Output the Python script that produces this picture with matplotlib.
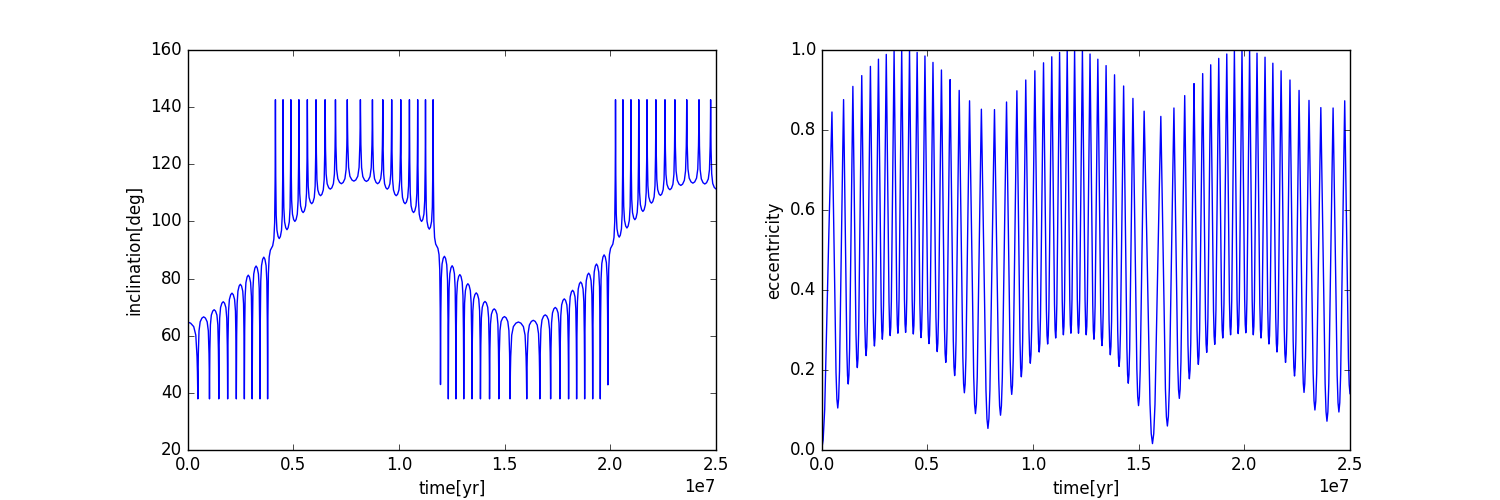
import numpy as np
import matplotlib
matplotlib.use("Agg")
import matplotlib.pyplot as plt

plt.style.use("classic")

# ---------------- data ----------------
T_SCALE = 1e7
t_end = 2.5  # [1e7 yr]

# times of the eccentricity maxima / inclination spikes [1e7 yr]
event_t = [0.049, 0.104, 0.148, 0.190, 0.231, 0.269, 0.306, 0.343, 0.379, 0.416,
           0.452, 0.489, 0.527, 0.567, 0.608, 0.651, 0.700, 0.756, 0.818, 0.875,
           0.924, 0.966, 1.009, 1.050, 1.089, 1.126, 1.162, 1.197, 1.234, 1.270,
           1.307, 1.346, 1.386, 1.429, 1.473, 1.526, 1.605, 1.667, 1.718, 1.762,
           1.803, 1.841, 1.879, 1.917, 1.953, 1.989, 2.025, 2.060, 2.098, 2.135,
           2.174, 2.216, 2.259, 2.306, 2.362, 2.420, 2.475]

# inclination value at each spike [deg]
inc_spike = [37.9] * 9 + [142.6] * 18 + [42.9] + [37.9] * 17 + [42.8] + [142.6] * 11

# inclination level between spikes (first = start value, last = end value) [deg]
inc_level = [64.8,
             66.6, 69.1, 71.9, 74.9, 78.0, 81.2, 84.4, 87.5,
             90.7,
             94.0, 97.1, 100.0, 103.1, 106.2, 109.0, 111.3, 113.2, 114.1,
             114.0, 113.2, 111.3, 109.0, 106.2, 103.1, 100.0, 97.3,
             91.3,
             87.8, 84.5, 81.4, 78.2, 75.0, 72.0, 69.4, 66.7, 64.8,
             65.4, 67.3, 69.9, 72.9, 75.9, 78.8, 81.9, 85.1, 88.3,
             91.3,
             94.5, 97.7, 100.6, 103.5, 106.4, 109.1, 111.1, 112.6, 113.4, 113.1,
             111.4]

# eccentricity maxima
ecc_peak = [0.845, 0.876, 0.909, 0.936, 0.959, 0.977, 0.989, 0.997, 1.000, 1.000,
            0.994, 0.985, 0.969, 0.950, 0.926, 0.899, 0.873, 0.852, 0.851, 0.870,
            0.898, 0.925, 0.948, 0.968, 0.983, 0.994, 1.000, 1.000, 0.998, 0.990,
            0.977, 0.961, 0.938, 0.910, 0.879, 0.847, 0.834, 0.855, 0.886, 0.916,
            0.941, 0.963, 0.979, 0.990, 0.998, 1.000, 0.998, 0.992, 0.982, 0.967,
            0.948, 0.925, 0.899, 0.874, 0.856, 0.855, 0.873]

# eccentricity minima between maxima (first = start value, last = end value)
ecc_trough = [0.000,
              0.105, 0.165, 0.206, 0.236, 0.260, 0.277, 0.286, 0.292, 0.294, 0.290,
              0.281, 0.266, 0.246, 0.219, 0.186, 0.143, 0.091, 0.054, 0.087, 0.139,
              0.183, 0.217, 0.245, 0.265, 0.280, 0.288, 0.292, 0.292, 0.288, 0.277,
              0.261, 0.238, 0.209, 0.167, 0.111, 0.016, 0.060, 0.129, 0.178, 0.214,
              0.244, 0.264, 0.280, 0.288, 0.291, 0.293, 0.288, 0.280, 0.265, 0.245,
              0.219, 0.185, 0.144, 0.100, 0.072, 0.095,
              0.141]

# ---------------- line shape (style) ----------------
# half-cycle profile from a level/trough (0) to a spike/peak (1)
INC_PROFILE_U = [0.0, 0.3, 0.6, 0.8, 0.92, 0.96, 1.0]
INC_PROFILE_A = [0.0, 0.015, 0.06, 0.17, 0.45, 0.65, 1.0]
ECC_PROFILE_U = [0.0, 0.15, 0.3, 0.5, 0.7, 0.85, 1.0]
ECC_PROFILE_A = [0.0, 0.03, 0.12, 0.38, 0.64, 0.82, 1.0]


def build_curve(times, extremes, levels, prof_u, prof_a, t_stop):
    times = list(times)
    centers = [0.0] + [(a + b) / 2 for a, b in zip(times[:-1], times[1:])] + [t_stop]
    pu = np.array(prof_u)
    pa = np.array(prof_a)
    xs, ys = [], []
    for k, (tk, sk) in enumerate(zip(times, extremes)):
        c0, l0 = centers[k], levels[k]
        c1, l1 = centers[k + 1], levels[k + 1]
        # from level k up/down to extreme k
        xs.extend(c0 + pu * (tk - c0))
        ys.extend(l0 + pa * (sk - l0))
        # from extreme k back to level k+1
        xs.extend((c1 + pu * (tk - c1))[::-1])
        ys.extend((l1 + pa * (sk - l1))[::-1])
    return np.array(xs) * T_SCALE, np.array(ys)


inc_x, inc_y = build_curve(event_t, inc_spike, inc_level,
                           INC_PROFILE_U, INC_PROFILE_A, t_end)
ecc_x, ecc_y = build_curve(event_t, ecc_peak, ecc_trough,
                           ECC_PROFILE_U, ECC_PROFILE_A, t_end)

# ---------------- figure ----------------
fig, (ax1, ax2) = plt.subplots(1, 2, figsize=(15, 5))
fig.patch.set_facecolor("white")

ax1.plot(inc_x, inc_y, color="b", lw=1.0)
ax1.set_xlim(0, t_end * T_SCALE)
ax1.set_ylim(20, 160)
ax1.set_xlabel("time[yr]")
ax1.set_ylabel("inclination[deg]")

ax2.plot(ecc_x, ecc_y, color="b", lw=1.0)
ax2.set_xlim(0, t_end * T_SCALE)
ax2.set_ylim(0, 1.0)
ax2.set_xlabel("time[yr]")
ax2.set_ylabel("eccentricity")

fig.savefig("out.png", dpi=100, facecolor="white")
